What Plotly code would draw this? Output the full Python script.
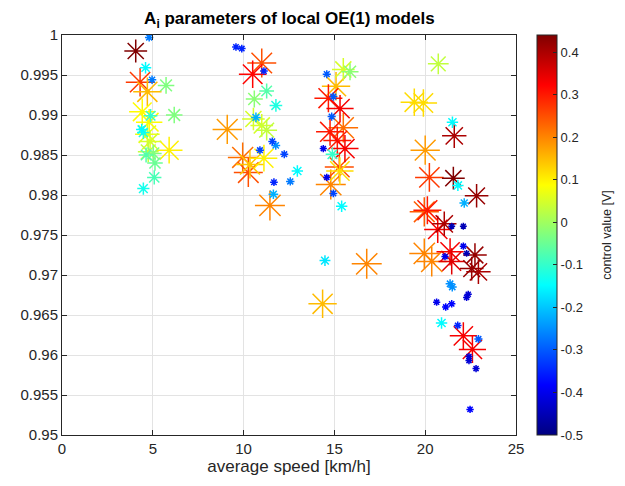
import numpy as np
import plotly.graph_objects as go

# average speed [km/h]
speed = [4.8, 4.06, 4.6, 4.3, 4.96, 5.73, 4.7, 4.42, 4.88, 6.18, 4.8, 4.39, 4.48, 4.7, 4.85, 5.9, 4.75, 5.03, 4.63, 5.12, 5.08, 4.48,
         9.58, 9.9, 11.0, 11.12, 10.5, 11.27, 10.59, 11.78, 9.1, 10.54, 10.68, 11.0, 11.27, 11.58, 11.77, 10.9, 12.24, 9.95, 11.12, 10.35, 10.26, 12.96, 11.67, 12.57, 11.64, 11.45,
         15.49, 15.86, 14.58, 15.09, 14.94, 14.67, 15.31, 14.85, 14.76, 15.49, 15.16, 15.58, 14.39, 14.89, 15.27, 15.3, 14.58, 14.8, 14.94, 15.4, 16.78, 14.48, 14.35,
         20.72, 19.4, 19.9, 21.5, 21.6, 20.0, 20.23, 21.55, 21.8, 22.83, 22.15, 20.12, 19.95, 20.69, 21.05, 21.46, 22.1, 19.95, 20.36, 21.37, 21.46, 21.09, 22.1, 22.28, 22.74, 22.56, 22.93,
         21.37, 21.49, 22.37, 22.28, 20.63, 21.13, 21.46, 20.9, 21.79, 22.1, 22.6, 22.93, 22.41, 22.41, 22.8, 22.47]

# A_i parameter
a_param = [0.9997, 0.9980, 0.9959, 0.9941, 0.9944, 0.9937, 0.9929, 0.9904, 0.9899, 0.9900, 0.9891, 0.9882, 0.9878, 0.9876, 0.9867, 0.9856, 0.9854, 0.9852, 0.9850, 0.9840, 0.9822, 0.9808,
           0.9985, 0.9983, 0.9965, 0.9955, 0.9951, 0.9930, 0.9920, 0.9912, 0.9882, 0.9895, 0.9897, 0.9887, 0.9881, 0.9867, 0.9862, 0.9856, 0.9851, 0.9847, 0.9846, 0.9838, 0.9828, 0.9830, 0.9816, 0.9817, 0.9801, 0.9787,
           0.9957, 0.9954, 0.9951, 0.9936, 0.9923, 0.9921, 0.9908, 0.9898, 0.9879, 0.9884, 0.9868, 0.9858, 0.9858, 0.9851, 0.9835, 0.9830, 0.9822, 0.9813, 0.9802, 0.9786, 0.9714, 0.9718, 0.9664,
           0.9964, 0.9916, 0.9915, 0.9891, 0.9874, 0.9856, 0.9822, 0.9821, 0.9812, 0.9799, 0.9790, 0.9781, 0.9779, 0.9757, 0.9764, 0.9761, 0.9761, 0.9727, 0.9717, 0.9729, 0.9717, 0.9723, 0.9736, 0.9727, 0.9725, 0.9708, 0.9704,
           0.9689, 0.9685, 0.9676, 0.9672, 0.9666, 0.9660, 0.9664, 0.9640, 0.9637, 0.9624, 0.9607, 0.9620, 0.9598, 0.9593, 0.9583, 0.9532]

# control value [V]
control = [-0.27, 0.44, -0.15, 0.27, -0.27, -0.03, 0.15, 0.09, -0.10, -0.03, 0.09, -0.15, -0.12, 0.07, 0.05, 0.10, 0.03, -0.03, -0.07, -0.05, -0.08, -0.13,
           -0.35, -0.35, 0.25, -0.35, 0.32, -0.07, -0.02, -0.12, 0.18, 0.05, -0.22, 0.05, 0.03, -0.32, -0.25, -0.32, -0.32, 0.22, 0.10, 0.14, 0.25, -0.15, -0.35, -0.27, -0.22, 0.20,
           0.05, -0.02, -0.30, 0.15, -0.30, 0.30, 0.33, -0.30, 0.30, 0.22, 0.30, 0.33, -0.40, -0.10, 0.25, 0.12, -0.40, 0.20, -0.32, -0.15, 0.20, -0.17, 0.15,
           0.03, 0.12, 0.12, -0.15, 0.40, 0.18, 0.27, 0.44, -0.15, 0.42, -0.22, 0.30, 0.24, 0.33, 0.40, -0.45, -0.45, 0.20, 0.20, 0.33, 0.35, -0.40, -0.40, -0.45, 0.42, 0.42, 0.40,
           -0.25, -0.25, -0.42, -0.42, -0.40, -0.38, -0.38, -0.15, -0.35, 0.33, 0.33, -0.30, -0.42, -0.42, -0.42, -0.38]

x_ticks = [0, 5, 10, 15, 20, 25]
y_ticks = [0.95, 0.955, 0.96, 0.965, 0.97, 0.975, 0.98, 0.985, 0.99, 0.995, 1.0]
y_ticklabels = ["0.95", "0.955", "0.96", "0.965", "0.97", "0.975", "0.98", "0.985", "0.99", "0.995", "1"]
cb_ticks = [-0.5, -0.4, -0.3, -0.2, -0.1, 0, 0.1, 0.2, 0.3, 0.4]
cb_ticklabels = ["-0.5", "-0.4", "-0.3", "-0.2", "-0.1", "0", "0.1", "0.2", "0.3", "0.4"]
c_min, c_max = -0.5, 0.44

jet = [[0, "rgb(0,0,128)"], [0.125, "rgb(0,0,255)"], [0.375, "rgb(0,255,255)"],
       [0.625, "rgb(255,255,0)"], [0.875, "rgb(255,0,0)"], [1, "rgb(128,0,0)"]]

c = np.array(control)
size = np.interp(c, [-0.5, -0.4, -0.27, -0.15, -0.05, 0.0, 0.09, 0.2, 0.32, 0.44],
                    [5.5, 6, 7, 9.5, 13, 15, 22, 25, 23, 19])
order = np.argsort(-size, kind="stable")
xs = np.array(speed)[order]
ys = np.array(a_param)[order]
cs = c[order]
ss = size[order]

font = "Liberation Sans, Arial, sans-serif"
ink = "#262626"
fig = go.Figure()
fig.add_trace(go.Scatter(
    x=xs, y=ys, mode="markers",
    marker=dict(symbol="asterisk-open", size=ss, color=cs, colorscale=jet, opacity=1,
                cmin=c_min, cmax=c_max, line=dict(width=1.5),
                colorbar=dict(
                    thickness=20, len=1, lenmode="fraction", y=0.5, yanchor="middle",
                    x=1.046, xanchor="left", xpad=0, ypad=0,
                    outlinecolor=ink, outlinewidth=1,
                    tickvals=cb_ticks, ticktext=cb_ticklabels,
                    ticks="inside", ticklen=4, tickcolor=ink,
                    tickfont=dict(family=font, size=13, color=ink))),
    showlegend=False, hoverinfo="x+y"))

axis_common = dict(showline=True, linecolor=ink, linewidth=1, mirror="ticks",
                   ticks="inside", ticklen=5, tickcolor=ink,
                   showgrid=True, gridcolor="#e3e3e3", gridwidth=1, zeroline=False,
                   tickfont=dict(family=font, size=15, color=ink))

fig.update_layout(
    width=625, height=486,
    margin=dict(l=62, r=109, t=35, b=51, autoexpand=False),
    paper_bgcolor="white", plot_bgcolor="white",
    title=dict(text="<b>A<sub>i</sub> parameters of local OE(1) models</b>",
               x=0.463, xanchor="center", y=0.975, yanchor="top",
               font=dict(family=font, size=17, color="black")),
    xaxis=dict(range=[0, 25], tickvals=x_ticks,
               title=dict(text="average speed [km/h]", standoff=4,
                          font=dict(family=font, size=17, color=ink)),
               **axis_common),
    yaxis=dict(range=[0.95, 1.0], tickvals=y_ticks, ticktext=y_ticklabels, **axis_common),
    annotations=[dict(text="control value [V]", xref="paper", yref="paper",
                      x=1.2, y=0.5, xanchor="center", yanchor="middle",
                      textangle=-90, showarrow=False,
                      font=dict(family=font, size=12.5, color=ink))],
)

fig.write_html("out.html", config={"displayModeBar": False},
               post_script="document.body.style.margin='0';")
